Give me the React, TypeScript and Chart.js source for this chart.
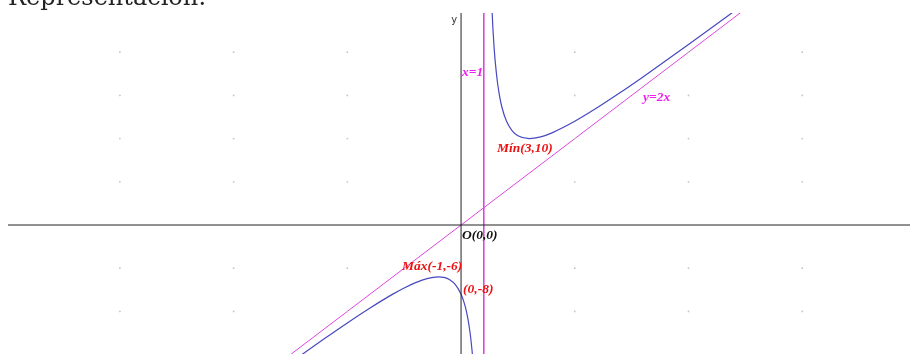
import React, { useEffect, useRef } from "react";
import { Chart, registerables } from "chart.js";

Chart.register(...registerables);

// Curve branches
const leftBranchX = [-7.8, -7, -6, -5, -4, -3, -2.5, -2, -1.5, -1, -0.75, -0.5, -0.25, 0, 0.1, 0.2, 0.3, 0.4, 0.45, 0.5, 0.55];
const leftBranchY = [-16.51, -15, -13.14, -11.33, -9.6, -8, -7.29, -6.67, -6.2, -6, -6.07, -6.33, -6.9, -8, -8.69, -9.6, -10.83, -12.53, -13.65, -15, -16.68];
const rightBranchX = [1.3, 1.35, 1.4, 1.45, 1.5, 1.6, 1.7, 1.8, 2, 2.25, 2.5, 3, 3.5, 4, 5, 6, 7, 8, 9, 10, 11, 12.2];
const rightBranchY = [29.27, 25.56, 22.8, 20.68, 19, 16.53, 14.83, 13.6, 12, 10.9, 10.33, 10, 10.2, 10.67, 12, 13.6, 15.33, 17.14, 19, 20.89, 22.8, 25.11];

// Asymptotes
const verticalAsymX = [1, 1];
const verticalAsymY = [-20, 30];
const obliqueAsymX = [-10, 15];
const obliqueAsymY = [-20, 30];

// Axes
const xAxisX = [-30, 30];
const xAxisY = [0, 0];
const yAxisX = [0, 0];
const yAxisY = [-30, 30];

// Grid dots
const gridX = [-15, -10, -5, 5, 10, 15];
const gridY = [-15, -10, -5, 5, 10, 15, 20];

// View window
const xMin = -19.92;
const xMax = 19.74;
const yMin = -14.93;
const yMax = 24.54;

// Labels (text, anchor in data units, kind)
const labelTexts = ["x=1", "y=2x", "Mín(3,10)", "O(0,0)", "Máx(-1,-6)", "(0,-8)"];
const labelX = [0.04, 8.0, 1.58, 0.04, -2.6, 0.09];
const labelY = [17.6, 14.8, 8.9, -1.16, -4.86, -7.5];
const labelKinds = ["asym", "asym", "point", "origin", "point", "point"];

const heading = "Representación:";
const axisName = "y";

function toPts(xs: number[], ys: number[]) {
  return xs.map((x, i) => ({ x, y: ys[i] }));
}

export default function App() {
  const ref = useRef<HTMLCanvasElement | null>(null);

  useEffect(() => {
    if (!ref.current) return;
    const gridPts: { x: number; y: number }[] = [];
    gridX.forEach((gx) => gridY.forEach((gy) => gridPts.push({ x: gx, y: gy })));

    const labelPlugin = {
      id: "labels",
      afterDraw(chart: any) {
        const ctx = chart.ctx;
        const xs = chart.scales.x;
        const ys = chart.scales.y;
        ctx.save();
        // heading (cut off at top)
        ctx.fillStyle = "#222";
        ctx.font = "24px 'DejaVu Serif'";
        ctx.textBaseline = "alphabetic";
        ctx.textAlign = "left";
        ctx.fillText(heading, 8, 5);
        // axis name
        ctx.font = "10px 'DejaVu Sans'";
        ctx.fillStyle = "#333";
        ctx.textAlign = "right";
        ctx.textBaseline = "middle";
        ctx.fillText(axisName, xs.getPixelForValue(0) - 4, chart.chartArea.top + 7);
        // labels
        ctx.font = "bold italic 13.5px 'Liberation Serif'";
        ctx.textAlign = "left";
        ctx.textBaseline = "middle";
        labelTexts.forEach((t, i) => {
          const k = labelKinds[i];
          ctx.fillStyle = k === "asym" ? "#ee22ee" : k === "origin" ? "#111" : "#ee1111";
          ctx.fillText(t, xs.getPixelForValue(labelX[i]), ys.getPixelForValue(labelY[i]));
        });
        ctx.restore();
      },
    };

    const chart = new Chart(ref.current, {
      type: "scatter",
      data: {
        datasets: [
          {
            data: gridPts,
            pointRadius: 0.9,
            pointHoverRadius: 0,
            pointBackgroundColor: "#c4c4c4",
            pointBorderWidth: 0,
            showLine: false,
            clip: false as any,
          },
          {
            data: toPts(xAxisX, xAxisY),
            showLine: true,
            borderColor: "#222",
            borderWidth: 1,
            pointRadius: 0,
            pointHoverRadius: 0,
          },
          {
            data: toPts(yAxisX, yAxisY),
            showLine: true,
            borderColor: "#222",
            borderWidth: 1,
            pointRadius: 0,
            pointHoverRadius: 0,
          },
          {
            data: toPts(obliqueAsymX, obliqueAsymY),
            showLine: true,
            borderColor: "#e044e0",
            borderWidth: 1,
            pointRadius: 0,
            pointHoverRadius: 0,
          },
          {
            data: toPts(verticalAsymX, verticalAsymY),
            showLine: true,
            borderColor: "#d44cd4",
            borderWidth: 1.6,
            pointRadius: 0,
            pointHoverRadius: 0,
          },
          {
            data: toPts(leftBranchX, leftBranchY),
            showLine: true,
            borderColor: "#4848c0",
            borderWidth: 1.2,
            pointRadius: 0,
            pointHoverRadius: 0,
            cubicInterpolationMode: "monotone",
          },
          {
            data: toPts(rightBranchX, rightBranchY),
            showLine: true,
            borderColor: "#4848c0",
            borderWidth: 1.2,
            pointRadius: 0,
            pointHoverRadius: 0,
            cubicInterpolationMode: "monotone",
          },
        ],
      },
      options: {
        responsive: false,
        animation: false,
        events: [],
        layout: { autoPadding: false, padding: { top: 13, left: 8, right: 0, bottom: 0 } },
        plugins: { legend: { display: false }, tooltip: { enabled: false } },
        scales: {
          x: { type: "linear", min: xMin, max: xMax, display: false },
          y: { type: "linear", min: yMin, max: yMax, display: false },
        },
      },
      plugins: [labelPlugin],
    });
    return () => chart.destroy();
  }, []);

  return (
    <canvas
      ref={ref}
      width={910}
      height={354}
      style={{ position: "absolute", left: 0, top: 0, width: 910, height: 354 }}
    />
  );
}
